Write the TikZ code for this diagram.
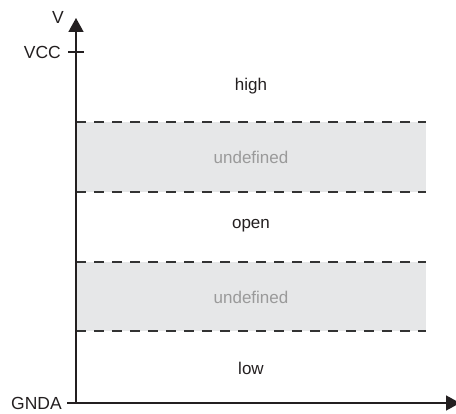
\documentclass[tikz,border=0pt]{standalone}
\usepackage{fontspec}
\setmainfont{Liberation Sans}
\usetikzlibrary{arrows.meta}
\definecolor{axiscol}{HTML}{231F20}
\definecolor{bandfill}{HTML}{E6E7E8}
\definecolor{bandtext}{HTML}{9A9A9A}
\definecolor{dashcol}{HTML}{333333}
\tikzset{
  axisline/.style={draw=axiscol, line width=1.6pt},
  axistip/.style={-{Triangle[length=14pt,width=15pt]}},
  tickline/.style={draw=axiscol, line width=1.2pt},
  bandline/.style={draw=dashcol, line width=1.6pt, dash pattern=on 10pt off 8pt},
  band/.style={fill=bandfill, draw=none},
  lvl/.style={font=\fontsize{17}{19}\selectfont, text=axiscol},
  undef/.style={font=\fontsize{17}{19}\selectfont, text=bandtext},
  axlabel/.style={font=\fontsize{17.5}{19}\selectfont, text=axiscol, anchor=east, inner sep=0pt}
}
\begin{document}
\begin{tikzpicture}[x=1pt,y=-1pt]
  \useasboundingbox (0,0) rectangle (456,414);

  % shaded undefined bands
  \fill[band] (76,122) rectangle (426,192);
  \fill[band] (76,262) rectangle (426,331);

  % band borders
  \coordinate (b1tl) at (76,122);  \coordinate (b1tr) at (426,122);
  \coordinate (b1bl) at (76,192);  \coordinate (b1br) at (426,192);
  \coordinate (b2tl) at (76,262);  \coordinate (b2tr) at (426,262);
  \coordinate (b2bl) at (76,331);  \coordinate (b2br) at (426,331);
  \draw[bandline] (b1tl) -- (b1tr);
  \draw[bandline] (b1bl) -- (b1br);
  \draw[bandline] (b2tl) -- (b2tr);
  \draw[bandline] (b2bl) -- (b2br);

  % axes
  \coordinate (origin) at (76,403);
  \coordinate (ytop) at (76,18);
  \coordinate (gndl) at (67,403);
  \coordinate (xend) at (460,403);
  \draw[axisline, axistip] (origin) -- (ytop);
  \draw[axisline, axistip] (gndl) -- (xend);

  % VCC tick
  \coordinate (vccl) at (68,52);
  \coordinate (vccr) at (84,52);
  \draw[tickline] (vccl) -- (vccr);

  % axis labels
  \node[axlabel] (vlab) at (64,17) {V};
  \node[axlabel] (vcclab) at (61,52) {VCC};
  \node[axlabel] (gndlab) at (62,403) {GNDA};

  % level labels
  \node[lvl]   (high)  at (251,86)  {high};
  \node[undef] (und1)  at (251,157) {undefined};
  \node[lvl]   (open)  at (251,226) {open};
  \node[undef] (und2)  at (251,297) {undefined};
  \node[lvl]   (low)   at (251,368) {low};
\end{tikzpicture}
\end{document}
